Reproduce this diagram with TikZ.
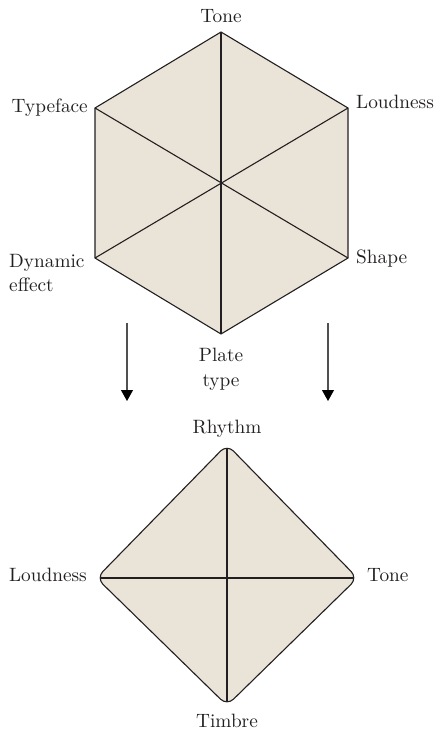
\documentclass[tikz,border=0pt]{standalone}
\usepackage{fontspec}
\setmainfont{lmroman10-regular.otf}
\usetikzlibrary{arrows.meta,calc}
\definecolor{plate}{RGB}{234,228,216}
\definecolor{ink}{RGB}{35,31,32}
\definecolor{shaft}{RGB}{80,80,80}
\begin{document}
\begin{tikzpicture}[x=1pt,y=-1pt,
  lbl/.style={inner sep=0pt,font=\fontsize{19.3}{24.5}\selectfont,text=ink},
  edge/.style={draw=ink,line width=1.1pt,line join=miter},
  spoke/.style={draw=ink,line width=1.1pt},
  arr/.style={draw=shaft,line width=1.1pt,-{Triangle[length=11pt,width=12pt,color=black]}}]
\useasboundingbox (0,0) rectangle (437,733);
% hexagon vertices
\coordinate (hT) at (221,32);
\coordinate (hUL) at (95,108);
\coordinate (hUR) at (348,108);
\coordinate (hLL) at (95,258);
\coordinate (hLR) at (348,258);
\coordinate (hB) at (221,334);
\path[edge,fill=plate] (hT) -- (hUR) -- (hLR) -- (hB) -- (hLL) -- (hUL) -- cycle;
\draw[spoke] (hT) -- (hB);
\draw[spoke] (hUL) -- (hLR);
\draw[spoke] (hUR) -- (hLL);
% hexagon labels
\node[lbl,anchor=base] (tone1) at (221,23) {Tone};
\node[lbl,anchor=base east] (typeface) at (88,113) {Typeface};
\node[lbl,anchor=base west] (loud1) at (356,109) {Loudness};
\node[lbl,anchor=north west,align=left] (dyn) at (9,254) {Dynamic\\effect};
\node[lbl,anchor=base west] (shape) at (356,263) {Shape};
\node[lbl,anchor=north,align=center] (plate) at (221,348) {Plate\\type};
% arrows
\coordinate (a1s) at (127,323);
\coordinate (a1e) at (127,401);
\coordinate (a2s) at (328,323);
\coordinate (a2e) at (328,401);
\draw[arr] (a1s) -- (a1e);
\draw[arr] (a2s) -- (a2e);
% diamond: spoke ends on the rounded outline
\coordinate (dT) at (227,448);
\coordinate (dR) at (354,578);
\coordinate (dB) at (227,702);
\coordinate (dL) at (100,578);
% sharp corners of the outline, a little beyond the rounded ends
\coordinate (oT) at (227,444.5);
\coordinate (oR) at (357.5,578);
\coordinate (oB) at (227,705.5);
\coordinate (oL) at (96.5,578);
\path[edge,fill=plate,rounded corners=9pt] ($(oL)!0.5!(oT)$) -- (oT) -- (oR) -- (oB) -- (oL) -- cycle;
\draw[spoke] (dT) -- (dB);
\draw[spoke] (dL) -- (dR);
% diamond labels
\node[lbl,anchor=base] (rhythm) at (227,433) {Rhythm};
\node[lbl,anchor=base east] (loud2) at (87,581) {Loudness};
\node[lbl,anchor=base west] (tone2) at (367,581) {Tone};
\node[lbl,anchor=base] (timbre) at (227,727) {Timbre};
\end{tikzpicture}
\end{document}
